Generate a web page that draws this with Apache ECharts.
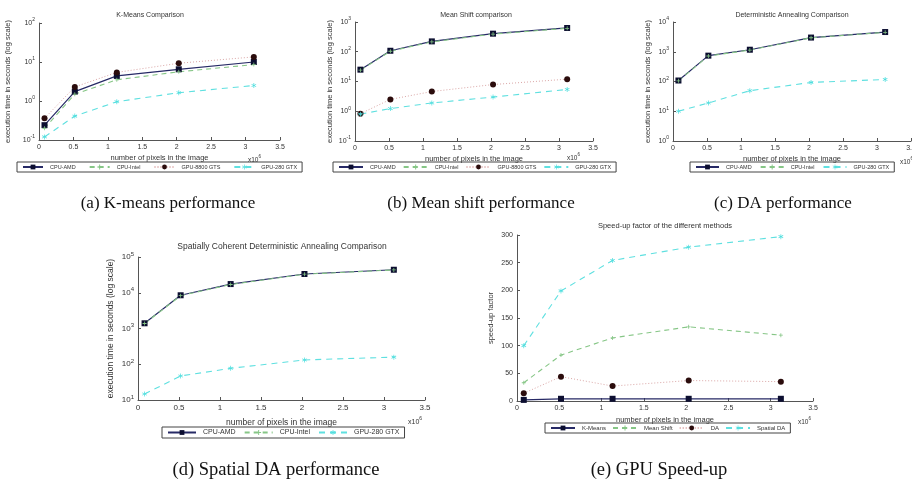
<!DOCTYPE html>
<html>
<head>
<meta charset="utf-8">
<script src="https://cdn.jsdelivr.net/npm/echarts@6/dist/echarts.min.js"></script>
<style>
  html, body { margin: 0; padding: 0; background: #fff; }
  #chart { width: 912px; height: 482px; }
</style>
</head>
<body>
<div id="chart"></div>
<script>
// image sizes (x 10^6 pixels)
const pixels = [0.08, 0.52, 1.13, 2.03, 3.12]
const xTicks = [0, 0.5, 1, 1.5, 2, 2.5, 3, 3.5]

// (a) K-Means, seconds
const kmAmd = [0.24, 1.74, 4.4, 6.5, 10]
const kmIntel = [0.2, 1.5, 3.5, 5.6, 8.6]
const km8800 = [0.36, 2.3, 5.4, 9.3, 13.5]
const km280 = [0.12, 0.41, 0.96, 1.63, 2.5]

// (b) Mean shift, seconds
const msAmd = [25, 108, 223, 405, 630]
const msIntel = [24, 104, 215, 392, 615]
const ms8800 = [0.83, 2.5, 4.6, 7.9, 12]
const ms280 = [0.8, 1.23, 1.9, 3.0, 5.4]

// (c) Deterministic annealing, seconds
const daAmd = [108, 740, 1170, 3000, 4600]
const daIntel = [105, 720, 1140, 2950, 4500]
const da280 = [10, 19, 49, 93, 117]

// (d) Spatial DA, seconds
const sdaAmd = [1400, 8500, 17500, 33500, 44000]
const sdaIntel = [1380, 8300, 17000, 33000, 43500]
const sda280 = [14.7, 47, 77, 132, 158]

// (e) speed-up factors
const suKm = [2, 4, 4, 4, 4]
const suMs = [33, 83, 114, 134, 119]
const suDa = [14, 44, 27, 37, 35]
const suSda = [100, 199, 254, 278, 297]

const captions = ['(a) K-means performance', '(b) Mean shift performance', '(c) DA performance',
  '(d) Spatial DA performance', '(e) GPU Speed-up']

const chart = echarts.init(document.getElementById('chart'))

const plus = 'path://M4,0h2v4h4v2h-4v4h-2v-4h-4v-2h4z'
const star = 'path://M4.3,0h1.4v3.8l3.3,-1.9l0.7,1.2l-3.3,1.9l3.3,1.9l-0.7,1.2l-3.3,-1.9v3.8h-1.4v-3.8l-3.3,1.9l-0.7,-1.2l3.3,-1.9l-3.3,-1.9l0.7,-1.2l3.3,1.9z'

const styles = {
  amd: { symbol: 'rect', symbolSize: 6, itemStyle: { color: '#0c0e30' }, lineStyle: { color: '#272a66', width: 1.2 } },
  intel: { symbol: plus, symbolSize: 4, itemStyle: { color: '#86c686' }, lineStyle: { color: '#86c686', width: 1.1, type: [5, 4] } },
  g8800: { symbol: 'circle', symbolSize: 6, itemStyle: { color: '#2b0c0c' }, lineStyle: { color: '#dba7a7', width: 1, type: [1, 2] } },
  g280: { symbol: star, symbolSize: 5, itemStyle: { color: '#4fdede' }, lineStyle: { color: '#5fe0e0', width: 1.1, type: [6, 5] } }
}

function mk (name, data, st, idx) {
  return Object.assign({
    name: name,
    type: 'line',
    xAxisIndex: idx,
    yAxisIndex: idx,
    showAllSymbol: true,
    animation: false,
    data: pixels.map((x, i) => [x, data[i]])
  }, st)
}

const grids = [
  { left: 39, top: 23, width: 241, height: 117 },
  { left: 355, top: 22, width: 238, height: 119 },
  { left: 673, top: 22, width: 238, height: 119 },
  { left: 138, top: 257, width: 287, height: 143 },
  { left: 517, top: 235, width: 296, height: 166 }
].map(g => Object.assign({ outerBoundsMode: 'none', containLabel: false }, g))

const axisColor = '#555'
const labelColor = '#333'

function xAx (idx, gap, fs) {
  return {
    type: 'value',
    gridIndex: idx,
    min: xTicks[0],
    max: xTicks[xTicks.length - 1],
    interval: 0.5,
    name: 'number of pixels in the image',
    nameLocation: 'middle',
    nameGap: gap,
    nameTextStyle: { fontSize: fs, color: labelColor, fontFamily: 'Liberation Sans' },
    axisLine: { lineStyle: { color: axisColor } },
    axisTick: { inside: true, length: 3, lineStyle: { color: axisColor } },
    axisLabel: { fontSize: fs - 0.5, color: labelColor, margin: 4, fontFamily: 'Liberation Sans' },
    splitLine: { show: false }
  }
}

function yLog (idx, min, max, gap, fs) {
  return {
    type: 'log',
    logBase: 10,
    gridIndex: idx,
    min: min,
    max: max,
    name: 'execution time in seconds (log scale)',
    nameLocation: 'middle',
    nameGap: gap,
    nameTextStyle: { fontSize: fs, color: labelColor, fontFamily: 'Liberation Sans' },
    axisLine: { show: true, lineStyle: { color: axisColor } },
    axisTick: { inside: true, length: 3, lineStyle: { color: axisColor } },
    axisLabel: {
      color: labelColor,
      fontSize: fs - 0.5,
      margin: 4,
      fontFamily: 'Liberation Sans',
      formatter: v => '10{s|' + Math.round(Math.log10(v)) + '}',
      rich: { s: { fontSize: fs - 2.5, padding: [0, 0, 6, 0], color: labelColor } }
    },
    splitLine: { show: false }
  }
}

function legend (names, left, top, fs, iw, gap) {
  return {
    data: names,
    left: left,
    top: top,
    orient: 'horizontal',
    itemWidth: iw,
    itemHeight: 6,
    itemGap: gap,
    padding: [2, 5],
    borderColor: '#444',
    borderWidth: 1,
    borderRadius: 0,
    textStyle: { fontSize: fs, color: labelColor, fontFamily: 'Liberation Sans', padding: [0, 0, 0, 2] }
  }
}

function txt (x, y, text, fs, family) {
  return {
    type: 'text',
    x: x,
    y: y,
    style: {
      text: text,
      fontSize: fs,
      fontFamily: family || 'Liberation Sans',
      fill: family ? '#111' : labelColor,
      align: 'center',
      verticalAlign: 'middle'
    }
  }
}

function times (x, y, fs) {
  return {
    type: 'text',
    x: x,
    y: y,
    style: {
      text: 'x10{s|6}',
      fontSize: fs,
      fontFamily: 'Liberation Sans',
      fill: labelColor,
      verticalAlign: 'middle',
      rich: { s: { fontSize: fs - 2, padding: [0, 0, 6, 0], fill: labelColor } }
    }
  }
}

const gpuNames = ['CPU-AMD', 'CPU-Intel', 'GPU-8800 GTS', 'GPU-280 GTX']
const daNames = ['CPU-AMD', 'CPU-Intel', 'GPU-280 GTX']
const suNames = ['K-Means', 'Mean Shift', 'DA', 'Spatial DA']

chart.setOption({
  animation: false,
  backgroundColor: '#fff',
  grid: grids,
  xAxis: [xAx(0, 14, 7.5), xAx(1, 14, 7.5), xAx(2, 14, 7.5), xAx(3, 18, 8.5), xAx(4, 15, 7.5)],
  yAxis: [
    yLog(0, 0.1, 100, 27, 7.5),
    yLog(1, 0.1, 1000, 21, 7.5),
    yLog(2, 1, 10000, 21, 7.5),
    yLog(3, 10, 100000, 23, 8.5),
    {
      type: 'value',
      gridIndex: 4,
      min: 0,
      max: 300,
      interval: 50,
      name: 'speed-up factor',
      nameLocation: 'middle',
      nameGap: 22,
      nameTextStyle: { fontSize: 7.5, color: labelColor, fontFamily: 'Liberation Sans' },
      axisLine: { show: true, lineStyle: { color: axisColor } },
      axisTick: { show: true, inside: true, length: 3, lineStyle: { color: axisColor } },
      axisLabel: { fontSize: 7, color: labelColor, margin: 4, fontFamily: 'Liberation Sans' },
      splitLine: { show: false }
    }
  ],
  legend: [
    legend(gpuNames, 17, 162, 5.5, 20, 13),
    legend(gpuNames, 333, 162, 5.5, 24, 7),
    legend(daNames, 690, 162, 5.5, 23, 8),
    legend(daNames, 162, 427, 7, 28, 8),
    legend(suNames, 545, 423, 6, 24, 6)
  ],
  series: [
    mk('CPU-AMD', kmAmd, styles.amd, 0),
    mk('CPU-Intel', kmIntel, styles.intel, 0),
    mk('GPU-8800 GTS', km8800, styles.g8800, 0),
    mk('GPU-280 GTX', km280, styles.g280, 0),

    mk('CPU-AMD', msAmd, styles.amd, 1),
    mk('CPU-Intel', msIntel, styles.intel, 1),
    mk('GPU-8800 GTS', ms8800, styles.g8800, 1),
    mk('GPU-280 GTX', ms280, styles.g280, 1),

    mk('CPU-AMD', daAmd, styles.amd, 2),
    mk('CPU-Intel', daIntel, styles.intel, 2),
    mk('GPU-280 GTX', da280, styles.g280, 2),

    mk('CPU-AMD', sdaAmd, styles.amd, 3),
    mk('CPU-Intel', sdaIntel, styles.intel, 3),
    mk('GPU-280 GTX', sda280, styles.g280, 3),

    mk('K-Means', suKm, styles.amd, 4),
    mk('Mean Shift', suMs, styles.intel, 4),
    mk('DA', suDa, styles.g8800, 4),
    mk('Spatial DA', suSda, styles.g280, 4)
  ],
  graphic: [
    txt(150, 15, 'K-Means Comparison', 7),
    txt(476, 15, 'Mean Shift comparison', 7),
    txt(792, 15, 'Deterministic Annealing Comparison', 7),
    txt(282, 247, 'Spatially Coherent Deterministic Annealing Comparison', 8.5),
    txt(665, 226, 'Speed-up factor of the different methods', 7.5),
    times(248, 160, 6.5),
    times(567, 158, 6.5),
    times(900, 162, 6.5),
    times(408, 422, 7),
    times(798, 422, 6.5),
    txt(168, 204, captions[0], 17, 'Liberation Serif'),
    txt(481, 204, captions[1], 17, 'Liberation Serif'),
    txt(783, 204, captions[2], 17, 'Liberation Serif'),
    txt(276, 470, captions[3], 18.5, 'Liberation Serif'),
    txt(659, 470, captions[4], 18.5, 'Liberation Serif')
  ]
})
</script>
</body>
</html>
